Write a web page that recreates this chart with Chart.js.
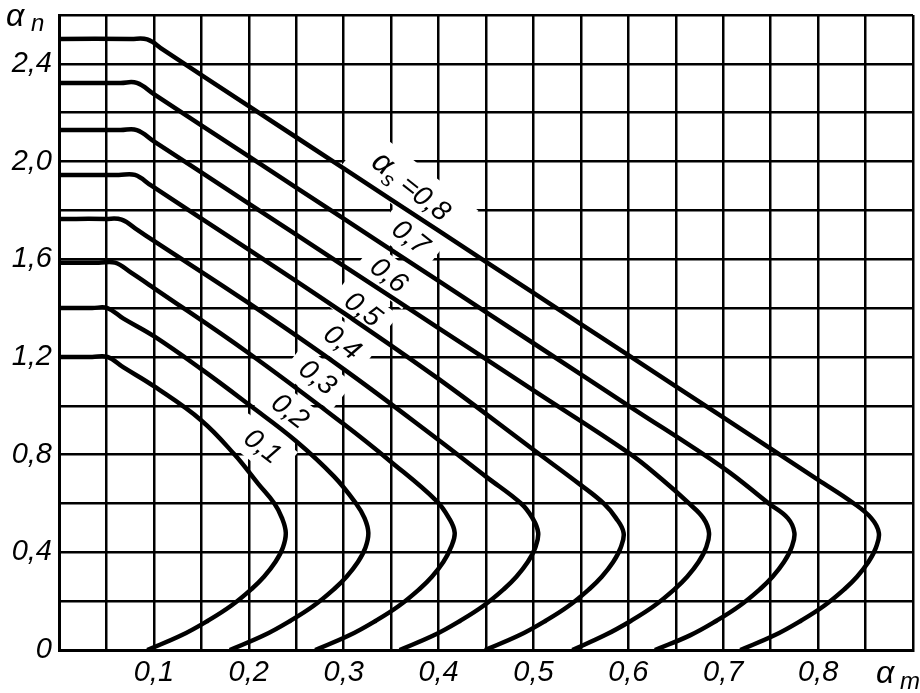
<!DOCTYPE html>
<html>
<head>
<meta charset="utf-8">
<script src="https://cdn.jsdelivr.net/npm/chart.js@4.4.1/dist/chart.umd.min.js"></script>
<style>
  html, body { margin: 0; padding: 0; background: #fff; }
  #wrap { width: 920px; height: 693px; position: relative; }
</style>
</head>
<body>
<div id="wrap"><canvas id="nomo"></canvas></div>
<script>
// alpha_s curves, points as [alpha_m, alpha_n]
const curve01 = [[0,1.20],[0.035,1.20],[0.051,1.20],[0.068,1.157],[0.10,1.08],[0.15,0.94],[0.185,0.80],[0.21,0.68],[0.227,0.60],[0.235,0.54],[0.239,0.48],[0.236,0.42],[0.228,0.36],[0.216,0.30],[0.203,0.25],[0.181,0.18],[0.157,0.12],[0.129,0.06],[0.093,0]];
const curve02 = [[0,1.40],[0.035,1.40],[0.051,1.40],[0.068,1.357],[0.10,1.285],[0.15,1.15],[0.20,1.005],[0.25,0.855],[0.29,0.71],[0.313,0.60],[0.322,0.54],[0.326,0.48],[0.323,0.42],[0.315,0.36],[0.303,0.30],[0.290,0.25],[0.268,0.18],[0.244,0.12],[0.216,0.06],[0.180,0]];
const curve03 = [[0,1.586],[0.042,1.586],[0.059,1.586],[0.076,1.545],[0.10,1.482],[0.20,1.215],[0.30,0.925],[0.35,0.77],[0.398,0.61],[0.411,0.54],[0.417,0.48],[0.413,0.42],[0.405,0.36],[0.393,0.30],[0.380,0.25],[0.358,0.18],[0.334,0.12],[0.306,0.06],[0.270,0]];
const curve04 = [[0,1.765],[0.049,1.765],[0.066,1.762],[0.083,1.719],[0.10,1.675],[0.20,1.42],[0.30,1.15],[0.40,0.86],[0.45,0.71],[0.487,0.60],[0.499,0.54],[0.505,0.48],[0.502,0.42],[0.494,0.36],[0.482,0.30],[0.469,0.25],[0.447,0.18],[0.423,0.12],[0.395,0.06],[0.359,0]];
const curve05 = [[0,1.945],[0.063,1.945],[0.080,1.945],[0.097,1.902],[0.20,1.639],[0.30,1.38],[0.40,1.11],[0.50,0.82],[0.55,0.675],[0.574,0.60],[0.587,0.54],[0.595,0.48],[0.592,0.42],[0.584,0.36],[0.572,0.30],[0.559,0.25],[0.537,0.18],[0.513,0.12],[0.485,0.06],[0.449,0]];
const curve06 = [[0,2.129],[0.065,2.129],[0.082,2.129],[0.10,2.083],[0.20,1.828],[0.30,1.573],[0.40,1.318],[0.50,1.063],[0.60,0.808],[0.635,0.70],[0.664,0.60],[0.679,0.54],[0.685,0.48],[0.682,0.42],[0.674,0.36],[0.662,0.30],[0.649,0.25],[0.627,0.18],[0.603,0.12],[0.575,0.06],[0.541,0]];
const curve07 = [[0,2.322],[0.065,2.322],[0.082,2.322],[0.10,2.276],[0.20,2.021],[0.30,1.766],[0.40,1.511],[0.50,1.256],[0.60,1.001],[0.70,0.746],[0.748,0.60],[0.768,0.54],[0.775,0.48],[0.772,0.42],[0.764,0.36],[0.752,0.30],[0.739,0.25],[0.717,0.18],[0.693,0.12],[0.665,0.06],[0.628,0]];
const curve08 = [[0,2.502],[0.076,2.502],[0.093,2.50],[0.11,2.457],[0.20,2.227],[0.30,1.972],[0.40,1.717],[0.50,1.462],[0.60,1.207],[0.70,0.952],[0.80,0.697],[0.837,0.602],[0.856,0.54],[0.864,0.48],[0.861,0.42],[0.853,0.36],[0.841,0.30],[0.828,0.25],[0.806,0.18],[0.782,0.12],[0.754,0.06],[0.718,0]];

const curves = [curve01, curve02, curve03, curve04, curve05, curve06, curve07, curve08];
const curveNames = ['0,1', '0,2', '0,3', '0,4', '0,5', '0,6', '0,7', '0,8'];

// tick labels
const xTickValues = [0.1, 0.2, 0.3, 0.4, 0.5, 0.6, 0.7, 0.8];
const xTickText = ['0,1', '0,2', '0,3', '0,4', '0,5', '0,6', '0,7', '0,8'];
const yTickValues = [0, 0.4, 0.8, 1.2, 1.6, 2.0, 2.4];
const yTickText = ['0', '0,4', '0,8', '1,2', '1,6', '2,0', '2,4'];

// where the curve names sit (data space)
const labelAnchors = [[0.214,0.831],[0.243,0.975],[0.272,1.114],[0.298,1.257],[0.320,1.392],[0.347,1.532],[0.370,1.687],[0.370,1.892]];

const FONT = '"Liberation Sans", Arial, sans-serif';
const LABEL_ANGLE = 38 * Math.PI / 180;

function pickLabel(values, texts, v) {
    const i = values.findIndex(t => Math.abs(t - v) < 1e-6);
    return i < 0 ? '' : texts[i];
}

const curveLabels = {
    id: 'curveLabels',
    beforeDatasetsDraw(chart) {
        const {ctx, scales: {x, y}} = chart;
        ctx.save();
        ctx.fillStyle = '#000';
        ctx.textBaseline = 'middle';
        labelAnchors.forEach((p, i) => {
            const px = x.getPixelForValue(p[0]);
            const py = y.getPixelForValue(p[1]);
            ctx.save();
            ctx.translate(px, py);
            ctx.rotate(LABEL_ANGLE);
            if (i < 7) {
                ctx.font = 'italic 28px ' + FONT;
                const w = ctx.measureText(curveNames[i]).width;
                ctx.fillStyle = '#fff';
                ctx.fillRect(-w / 2 - 12, -18, w + 24, 36);
                ctx.fillStyle = '#000';
                ctx.textAlign = 'center';
                ctx.fillText(curveNames[i], 0, 0);
            } else {
                // "α_s =0,8"
                ctx.font = 'italic 32px ' + FONT;
                const wa = ctx.measureText('α').width;
                ctx.font = 'italic 21px ' + FONT;
                const ws = ctx.measureText('s').width;
                ctx.font = 'italic 28px ' + FONT;
                const wr = ctx.measureText(' =' + curveNames[7]).width;
                const total = wa + ws + wr;
                ctx.fillStyle = '#fff';
                ctx.fillRect(-total / 2 - 22, -24, total + 44, 48);
                ctx.fillStyle = '#000';
                ctx.textAlign = 'left';
                let cx = -total / 2;
                ctx.font = 'italic 32px ' + FONT;
                ctx.fillText('α', cx, -2);
                cx += wa;
                ctx.font = 'italic 21px ' + FONT;
                ctx.fillText('s', cx, 8);
                cx += ws;
                ctx.font = 'italic 28px ' + FONT;
                ctx.fillText(' =' + curveNames[7], cx, 0);
            }
            ctx.restore();
        });
        ctx.restore();
    },
    afterDraw(chart) {
        const {ctx} = chart;
        ctx.save();
        ctx.fillStyle = '#000';
        ctx.textBaseline = 'alphabetic';
        ctx.textAlign = 'left';
        // axis names
        ctx.font = 'italic 32px ' + FONT;
        ctx.fillText('α', 6, 26);
        ctx.font = 'italic 24px ' + FONT;
        ctx.fillText('n', 31, 31);
        ctx.font = 'italic 32px ' + FONT;
        ctx.fillText('α', 876, 683);
        ctx.font = 'italic 24px ' + FONT;
        ctx.fillText('m', 900, 689);
        ctx.restore();
    }
};

const ctx = document.getElementById('nomo').getContext('2d');
const nomo = new Chart(ctx, {
    type: 'scatter',
    data: {
        datasets: curves.map((c, i) => ({
            label: curveNames[i],
            data: c.map(p => ({x: p[0], y: p[1]})),
            showLine: true,
            borderColor: '#000',
            borderWidth: 4.5,
            pointRadius: 0,
            pointHoverRadius: 0,
            tension: 0.4,
            fill: false
        }))
    },
    options: {
        responsive: true,
        maintainAspectRatio: false,
        animation: false,
        events: [],
        layout: { padding: { top: 15, right: 7, left: 0, bottom: 0 } },
        plugins: {
            legend: { display: false },
            tooltip: { enabled: false }
        },
        scales: {
            x: {
                type: 'linear',
                min: 0,
                max: 0.9,
                afterFit: s => { s.height = 43; s.paddingLeft = 0; s.paddingRight = 0; },
                grid: { color: '#000', lineWidth: 2.5, drawTicks: false },
                border: { color: '#000', width: 3 },
                ticks: {
                    stepSize: 0.05,
                    autoSkip: false,
                    maxRotation: 0,
                    minRotation: 0,
                    padding: 8,
                    color: '#000',
                    font: { family: FONT, size: 29, style: 'italic', lineHeight: 1 },
                    callback: v => pickLabel(xTickValues, xTickText, v)
                }
            },
            y: {
                type: 'linear',
                min: 0,
                max: 2.6,
                afterFit: s => { s.width = 59; s.paddingTop = 0; s.paddingBottom = 0; },
                grid: { color: '#000', lineWidth: 2.5, drawTicks: false },
                border: { color: '#000', width: 3 },
                ticks: {
                    stepSize: 0.2,
                    autoSkip: false,
                    padding: 7,
                    color: '#000',
                    font: { family: FONT, size: 29, style: 'italic', lineHeight: 1 },
                    callback: v => pickLabel(yTickValues, yTickText, v)
                }
            }
        }
    },
    plugins: [curveLabels]
});
</script>
</body>
</html>
